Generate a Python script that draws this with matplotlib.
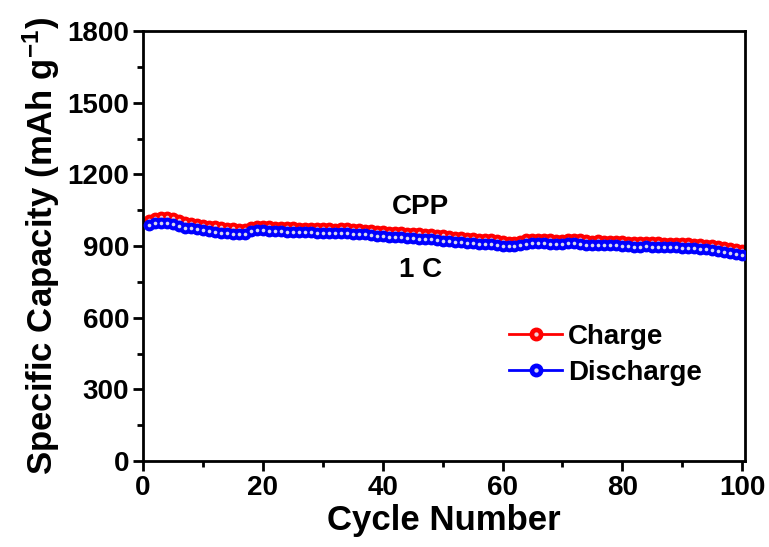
import matplotlib
matplotlib.use("Agg")
import matplotlib.pyplot as plt
from matplotlib.ticker import MultipleLocator
from matplotlib.legend_handler import HandlerTuple

plt.rcParams["font.family"] = ["Liberation Sans", "DejaVu Sans"]
plt.rcParams["font.weight"] = "bold"
plt.rcParams["mathtext.fontset"] = "custom"
plt.rcParams["mathtext.rm"] = "Liberation Sans:bold"
plt.rcParams["mathtext.default"] = "rm"

# Cycling data (1 C)
cycles = list(range(1, 101))

charge = [1010, 1019, 1022, 1021, 1017, 1010, 1003, 997, 993, 989,
          986, 983, 980, 977, 974, 971, 972, 980, 986, 986,
          984, 982, 981, 980, 979, 978, 977, 976, 975, 974,
          974, 973, 974, 975, 973, 971, 969, 967, 965, 963,
          961, 960, 958, 957, 955, 953, 951, 950, 948, 945,
          942, 940, 938, 936, 934, 932, 931, 930, 927, 922,
          918, 918, 923, 928, 930, 930, 929, 928, 927, 927,
          930, 932, 930, 925, 923, 924, 923, 922, 921, 920,
          919, 918, 917, 918, 917, 916, 915, 915, 914, 913,
          912, 910, 908, 906, 903, 899, 895, 891, 887, 883]

discharge = [988, 996, 998, 997, 992, 984, 978, 974, 970, 966,
             963, 960, 957, 954, 951, 950, 952, 962, 969, 968,
             965, 963, 962, 961, 960, 959, 958, 958, 956, 955,
             955, 954, 955, 954, 952, 951, 949, 946, 944, 942,
             940, 939, 937, 935, 933, 931, 930, 929, 926, 922,
             920, 918, 916, 914, 912, 910, 909, 908, 905, 901,
             899, 900, 906, 911, 913, 913, 912, 911, 910, 910,
             912, 914, 910, 906, 905, 906, 905, 904, 903, 902,
             900, 898, 897, 899, 898, 897, 896, 896, 895, 894,
             893, 891, 889, 887, 884, 880, 876, 872, 868, 864]

fig = plt.figure(figsize=(7.69, 5.47), dpi=100)
ax = fig.add_axes([0.186, 0.157, 0.783, 0.786])

# ball-style markers: coloured disc with a pale highlight
c_line, = ax.plot(cycles, charge, color="red", lw=2, marker="o", ms=7.5,
                  mec="red", mfc="red", zorder=2)
c_dot, = ax.plot(cycles, charge, ls="none", marker="o", ms=2.6,
                 mfc="#f0d0d8", mec="none", zorder=2.1)
d_line, = ax.plot(cycles, discharge, color="blue", lw=2, marker="o", ms=7.5,
                  mec="blue", mfc="blue", zorder=3)
d_dot, = ax.plot(cycles, discharge, ls="none", marker="o", ms=2.6,
                 mfc="#d8d8f0", mec="none", zorder=3.1)

ax.set_xlim(0, 100.5)
ax.set_ylim(0, 1800)
ax.xaxis.set_major_locator(MultipleLocator(20))
ax.xaxis.set_minor_locator(MultipleLocator(10))
ax.yaxis.set_major_locator(MultipleLocator(300))
ax.yaxis.set_minor_locator(MultipleLocator(150))

for sp in ax.spines.values():
    sp.set_linewidth(2)
ax.tick_params(which="major", direction="out", length=7, width=2,
               labelsize=20, pad=3, top=False, right=False)
ax.tick_params(which="minor", direction="out", length=4, width=2,
               top=False, right=False)
for lbl in ax.get_xticklabels() + ax.get_yticklabels():
    lbl.set_fontweight("bold")

ax.set_xlabel("Cycle Number", fontsize=25, fontweight="bold", labelpad=2)
ax.set_ylabel(r"Specific Capacity (mAh g$^{-1}$)", fontsize=25,
              fontweight="bold", labelpad=4)

ax.text(46.3, 1065, "CPP", fontsize=20, fontweight="bold", ha="center", va="center")
ax.text(46.3, 800, "1 C", fontsize=20, fontweight="bold", ha="center", va="center")

ax.legend([(c_line, c_dot), (d_line, d_dot)], ["Charge", "Discharge"],
          handler_map={tuple: HandlerTuple(ndivide=1, pad=0)},
          loc="upper left", bbox_to_anchor=(0.59, 0.345), frameon=False,
          fontsize=20, handlelength=1.9, handletextpad=0.2, labelspacing=0.35,
          borderaxespad=0, markerscale=1.2)

fig.savefig("out.png", dpi=100)
